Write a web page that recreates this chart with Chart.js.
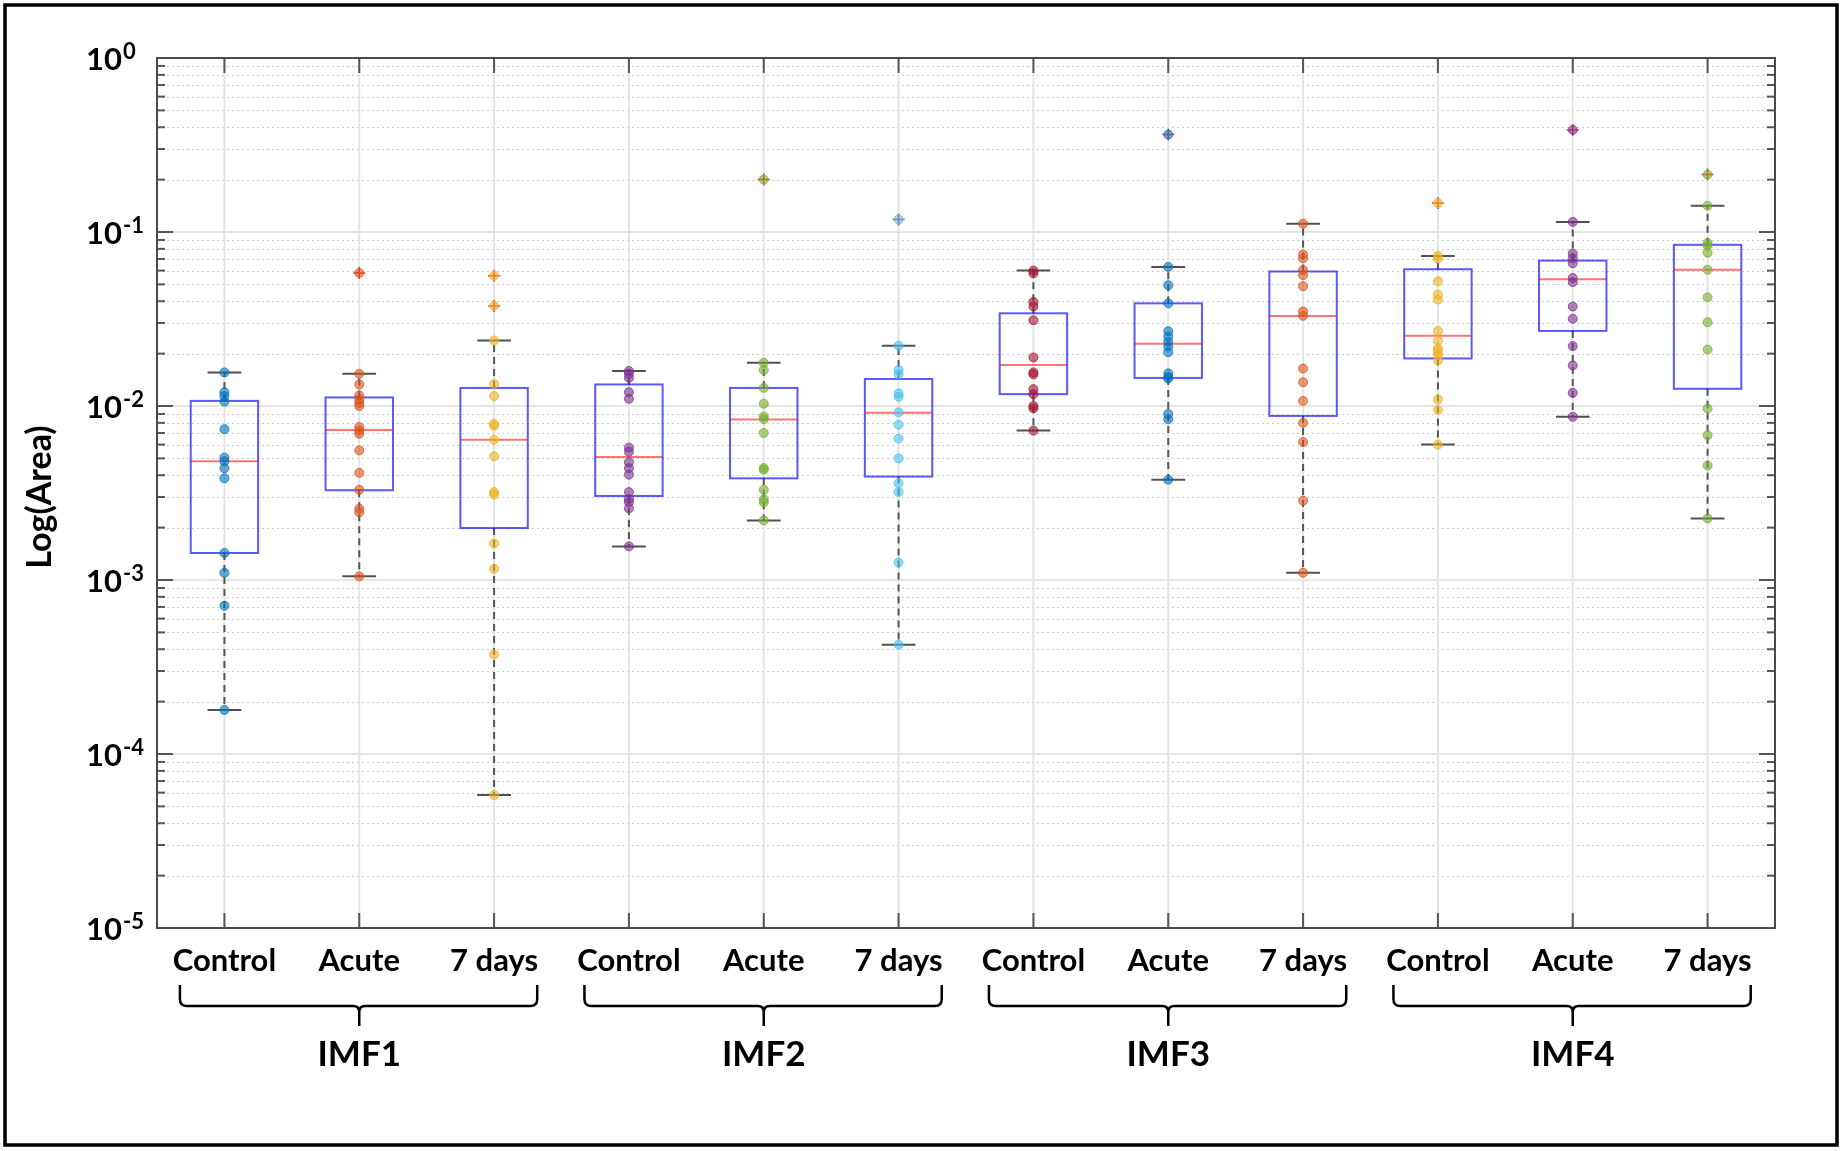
<!DOCTYPE html>
<html>
<head>
<meta charset="utf-8">
<script src="https://cdn.jsdelivr.net/npm/chart.js@4.4.0/dist/chart.umd.min.js"></script>
<style>
  body { margin: 0; background: #fff; }
  canvas { display: block; }
</style>
</head>
<body>
<canvas id="myChart" width="1843" height="1151"></canvas>
<script>
// groups / conditions on the x axis
const groups = ['IMF1', 'IMF2', 'IMF3', 'IMF4'];
const conditions = ['Control', 'Acute', '7 days'];
const yExponents = [0, -1, -2, -3, -4, -5];

// points (one array per box)
const imf1Control = [0.0156, 0.0120, 0.0114, 0.0106, 0.00736, 0.00505, 0.00481, 0.00439, 0.00384, 0.00143, 0.00110, 0.000711, 0.000179];
const imf1Acute = [0.0153, 0.0133, 0.0115, 0.0109, 0.0104, 0.0100, 0.00758, 0.00722, 0.00692, 0.00556, 0.00413, 0.0033, 0.00257, 0.00245, 0.00105];
const imf1Days = [0.0238, 0.0134, 0.0114, 0.0079, 0.0077, 0.0064, 0.00514, 0.0032, 0.0031, 0.00162, 0.00116, 0.000373, 0.0000581];
const imf2Control = [0.0159, 0.0153, 0.0145, 0.0120, 0.0110, 0.00577, 0.00546, 0.00475, 0.00439, 0.00403, 0.0032, 0.00292, 0.0028, 0.00258, 0.00156];
const imf2Acute = [0.0177, 0.0161, 0.0127, 0.0103, 0.0087, 0.0084, 0.0070, 0.0044, 0.0043, 0.0033, 0.0029, 0.0028, 0.0022];
const imf2Days = [0.0222, 0.0161, 0.0152, 0.0118, 0.0113, 0.0092, 0.0078, 0.0065, 0.0050, 0.0036, 0.0032, 0.00126, 0.000424];
const imf3Control = [0.060, 0.0578, 0.0396, 0.0373, 0.0311, 0.019, 0.0156, 0.0152, 0.0125, 0.0117, 0.0100, 0.0097, 0.00722];
const imf3Acute = [0.063, 0.0494, 0.0389, 0.0269, 0.0251, 0.0234, 0.022, 0.0204, 0.0154, 0.0147, 0.0144, 0.0090, 0.0084, 0.00377];
const imf3Days = [0.1116, 0.0743, 0.0707, 0.0604, 0.0565, 0.0488, 0.0349, 0.033, 0.0164, 0.0137, 0.0107, 0.0080, 0.0062, 0.00286, 0.0011];
const imf4Control = [0.0729, 0.0703, 0.0521, 0.0437, 0.0409, 0.027, 0.0237, 0.0215, 0.0206, 0.0196, 0.0183, 0.0109, 0.0095, 0.0060];
const imf4Acute = [0.1143, 0.0752, 0.0707, 0.0661, 0.0544, 0.0515, 0.0373, 0.0317, 0.0221, 0.0171, 0.0119, 0.00867];
const imf4Days = [0.1416, 0.0865, 0.0834, 0.076, 0.0607, 0.0421, 0.0303, 0.0211, 0.00966, 0.00679, 0.00455, 0.00226];

const pointSets = [imf1Control, imf1Acute, imf1Days, imf2Control, imf2Acute, imf2Days,
                   imf3Control, imf3Acute, imf3Days, imf4Control, imf4Acute, imf4Days];
const outlierSets = [[], [0.0582], [0.0561, 0.0376], [], [0.200], [0.118],
                     [], [0.363], [], [0.1466], [0.386], [0.2138]];

// box statistics
const q1 = [0.00143, 0.00328, 0.00199, 0.00304, 0.00384, 0.00393, 0.0117, 0.0145, 0.00877, 0.01876, 0.027, 0.01256];
const medians = [0.00481, 0.00727, 0.0064, 0.0051, 0.00836, 0.00916, 0.0172, 0.0228, 0.0329, 0.0253, 0.0535, 0.0607];
const q3 = [0.0107, 0.0112, 0.0127, 0.0133, 0.0127, 0.0143, 0.0341, 0.0389, 0.0593, 0.0611, 0.0685, 0.0844];
const whiskerLow = [0.000179, 0.00105, 0.0000581, 0.00156, 0.0022, 0.000424, 0.00722, 0.00377, 0.0011, 0.0060, 0.00867, 0.00226];
const whiskerHigh = [0.0156, 0.0153, 0.0238, 0.0159, 0.0177, 0.0222, 0.060, 0.063, 0.1116, 0.0729, 0.1143, 0.1416];

// matlab colour order
const colors = ['0,114,189', '217,83,25', '237,177,32', '126,47,142', '119,172,48', '77,190,238',
                '162,20,47', '0,114,189', '217,83,25', '237,177,32', '126,47,142', '119,172,48'];

const FONT = 'Lato, "Noto Sans", sans-serif';

function line(ctx, x1, y1, x2, y2) {
    ctx.beginPath();
    ctx.moveTo(x1, y1);
    ctx.lineTo(x2, y2);
    ctx.stroke();
}

const boxPlugin = {
    id: 'boxes',
    beforeDatasetsDraw(chart) {
        const ctx = chart.ctx, a = chart.chartArea;
        const xs = chart.scales.x, ys = chart.scales.y;
        ctx.save();
        // minor grid
        ctx.setLineDash([2, 3]);
        ctx.strokeStyle = '#cccccc';
        ctx.lineWidth = 1;
        for (let e = -5; e < 0; e++) {
            for (let m = 2; m < 10; m++) {
                const py = Math.round(ys.getPixelForValue(m * Math.pow(10, e))) + 0.5;
                line(ctx, a.left, py, a.right, py);
            }
        }
        ctx.setLineDash([]);
        ctx.strokeStyle = '#dddddd';
        ctx.lineWidth = 1.5;
        yExponents.forEach(e => {
            const py = ys.getPixelForValue(Math.pow(10, e));
            line(ctx, a.left, py, a.right, py);
        });
        ctx.strokeStyle = '#e4e4e4';
        ctx.lineWidth = 2;
        for (let i = 1; i <= 12; i++) {
            const px = xs.getPixelForValue(i);
            line(ctx, px, a.top, px, a.bottom);
        }

        // boxes, whiskers, medians
        for (let i = 0; i < 12; i++) {
            const cx = xs.getPixelForValue(i + 1);
            const hw = xs.getPixelForValue(i + 1.25) - cx;
            const cap = hw / 2;
            const yq1 = ys.getPixelForValue(q1[i]);
            const yq3 = ys.getPixelForValue(q3[i]);
            const ymed = ys.getPixelForValue(medians[i]);
            const ylo = ys.getPixelForValue(whiskerLow[i]);
            const yhi = ys.getPixelForValue(whiskerHigh[i]);

            ctx.setLineDash([7, 5]);
            ctx.strokeStyle = 'rgba(70,70,70,0.9)';
            ctx.lineWidth = 2;
            line(ctx, cx, yq3, cx, yhi);
            line(ctx, cx, yq1, cx, ylo);
            ctx.setLineDash([]);
            ctx.strokeStyle = '#505050';
            line(ctx, cx - cap, yhi, cx + cap, yhi);
            line(ctx, cx - cap, ylo, cx + cap, ylo);

            ctx.strokeStyle = 'rgba(0,0,255,0.65)';
            ctx.lineWidth = 2;
            ctx.strokeRect(cx - hw, yq3, hw * 2, yq1 - yq3);
            ctx.strokeStyle = 'rgba(255,0,0,0.55)';
            line(ctx, cx - hw, ymed, cx + hw, ymed);
        }
        ctx.restore();
    },
    afterDraw(chart) {
        const ctx = chart.ctx, a = chart.chartArea;
        const xs = chart.scales.x, ys = chart.scales.y;
        ctx.save();

        // axis ticks
        ctx.strokeStyle = '#555555';
        ctx.lineWidth = 2;
        for (let e = -5; e <= 0; e++) {
            const py = ys.getPixelForValue(Math.pow(10, e));
            line(ctx, a.left, py, a.left + 16, py);
            line(ctx, a.right, py, a.right - 16, py);
            if (e < 0) {
                for (let m = 2; m < 10; m++) {
                    const pm = ys.getPixelForValue(m * Math.pow(10, e));
                    line(ctx, a.left, pm, a.left + 8, pm);
                    line(ctx, a.right, pm, a.right - 8, pm);
                }
            }
        }
        for (let i = 1; i <= 12; i++) {
            const px = xs.getPixelForValue(i);
            line(ctx, px, a.top, px, a.top + 15);
            line(ctx, px, a.bottom, px, a.bottom - 15);
        }
        ctx.strokeStyle = '#4a4a4a';
        ctx.lineWidth = 2;
        ctx.strokeRect(a.left, a.top, a.right - a.left, a.bottom - a.top);

        // y tick labels 10^n
        ctx.fillStyle = '#000';
        ctx.textAlign = 'left';
        ctx.textBaseline = 'alphabetic';
        yExponents.forEach(e => {
            const py = ys.getPixelForValue(Math.pow(10, e));
            ctx.font = 'bold 31px ' + FONT;
            ctx.fillText('10', 86, py + 12);
            const w = ctx.measureText('10').width;
            ctx.font = 'bold 22px ' + FONT;
            ctx.fillText(e === 0 ? '0' : '-' + Math.abs(e), 86 + w + 1, py + 1);
        });

        // y title
        ctx.save();
        ctx.translate(40, 497);
        ctx.rotate(-Math.PI / 2);
        ctx.textAlign = 'center';
        ctx.textBaseline = 'middle';
        ctx.font = 'bold 34px ' + FONT;
        ctx.fillText('Log(Area)', 0, 0);
        ctx.restore();

        // x labels
        ctx.textAlign = 'center';
        ctx.font = 'bold 31px ' + FONT;
        for (let i = 0; i < 12; i++) {
            ctx.fillText(conditions[i % 3], xs.getPixelForValue(i + 1), 971);
        }

        // group brackets
        ctx.strokeStyle = '#000';
        ctx.lineWidth = 2.5;
        groups.forEach((g, k) => {
            const left = xs.getPixelForValue(k * 3 + 1 - 0.33);
            const right = xs.getPixelForValue(k * 3 + 3 + 0.32);
            const mid = xs.getPixelForValue(k * 3 + 2);
            const yb = 1006;
            ctx.beginPath();
            ctx.moveTo(left, 985);
            ctx.lineTo(left, yb - 7);
            ctx.quadraticCurveTo(left, yb, left + 7, yb);
            ctx.lineTo(mid - 6, yb);
            ctx.quadraticCurveTo(mid, yb, mid, yb + 6);
            ctx.lineTo(mid, 1026);
            ctx.moveTo(mid, yb + 6);
            ctx.quadraticCurveTo(mid, yb, mid + 6, yb);
            ctx.lineTo(right - 7, yb);
            ctx.quadraticCurveTo(right, yb, right, yb - 7);
            ctx.lineTo(right, 985);
            ctx.stroke();
            ctx.font = 'bold 35px ' + FONT;
            ctx.fillText(g, mid, 1066);
        });

        // outer frame
        ctx.strokeStyle = '#000';
        ctx.lineWidth = 3.5;
        ctx.strokeRect(5, 5, 1832, 1140);
        ctx.restore();
    }
};

function createChart() {
    const datasets = pointSets.map((pts, i) => ({
        data: pts.concat(outlierSets[i]).map(v => ({ x: i + 1, y: v })),
        backgroundColor: 'rgba(' + colors[i] + ',0.6)',
        borderColor: 'rgba(' + colors[i] + ',0.75)',
        borderWidth: 1,
        pointRadius: 4.5
    }));
    const outliers = [];
    outlierSets.forEach((o, i) => o.forEach(v => outliers.push({ x: i + 1, y: v })));
    datasets.push({
        data: outliers,
        pointStyle: 'cross',
        pointRadius: 6,
        borderColor: 'rgba(255,0,0,0.8)',
        borderWidth: 1.5,
        backgroundColor: 'rgba(255,0,0,0.8)'
    });

    const ctx = document.getElementById('myChart').getContext('2d');
    new Chart(ctx, {
        type: 'scatter',
        data: { datasets: datasets },
        options: {
            responsive: false,
            animation: false,
            devicePixelRatio: 1,
            layout: { padding: { left: 157, right: 68, top: 58, bottom: 223 } },
            plugins: { legend: { display: false }, tooltip: { enabled: false } },
            scales: {
                x: { type: 'linear', min: 0.5, max: 12.5, display: false },
                y: { type: 'logarithmic', min: 1e-5, max: 1, display: false }
            }
        },
        plugins: [boxPlugin]
    });
}

if (document.fonts && document.fonts.load) {
    Promise.all([document.fonts.load('bold 31px Lato')]).then(createChart, createChart);
} else {
    createChart();
}
</script>
</body>
</html>
